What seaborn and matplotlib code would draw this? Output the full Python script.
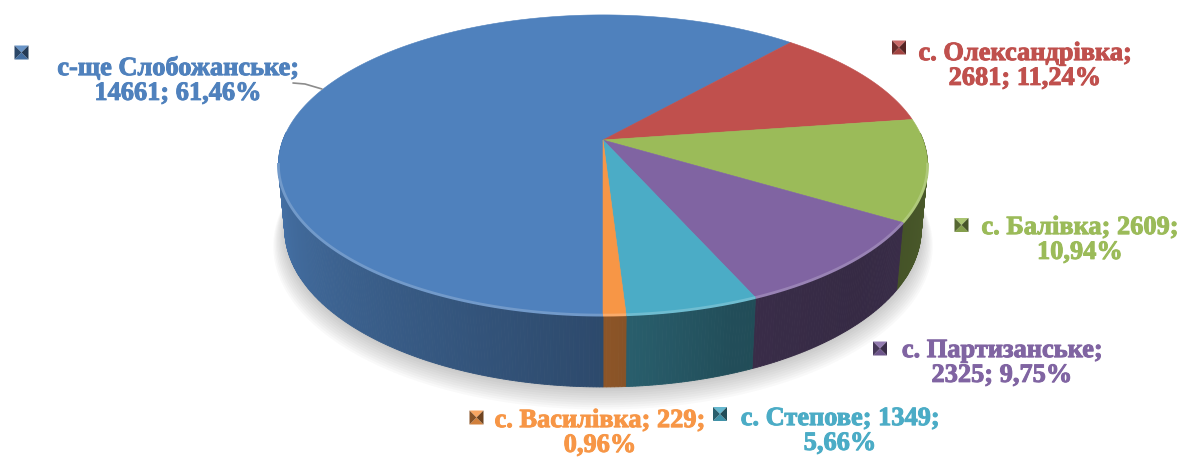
import numpy as np
import matplotlib
matplotlib.use("Agg")
import matplotlib.pyplot as plt
import matplotlib.colors as mcolors
import matplotlib.patheffects as pe
import seaborn as sns

# data
names = ["с-ще Слобожанське", "с. Олександрівка", "с. Балівка",
         "с. Партизанське", "с. Степове", "с. Василівка"]
values = [14661, 2681, 2609, 2325, 1349, 229]
colors = ["#4F81BD", "#C0504D", "#9BBB59", "#8064A2", "#4BACC6", "#F79646"]

# where the label text breaks onto the second line (0 = after name, 1 = after value)
label_break = [0, 0, 1, 0, 1, 1]
label_pos = [(178, 81), (1025, 66), (1080, 240), (1002, 363), (840, 431), (600, 433)]
marker_pos = [(21.5, 52.5), (899, 47.5), (961.5, 225), (880, 348.5), (720, 414), (476.5, 417.5)]

sns.set_style("white")
palette = sns.color_palette(colors)

# --- perspective 3D pie geometry (screen pixels) ---
cx, cy = 603, 140
F = 1709.0
L = 5.34
sphi, cphi = 0.456, 0.890
thick = 0.227
start_angle = 180.0  # first slice angle, clockwise from 12 o'clock


def proj(x, y, z):
    depth = L + y * cphi - z * sphi
    sx = cx + F * x / depth
    sy = cy - F * (y * sphi + z * cphi) / depth
    return sx, sy, depth


def shade(theta):
    th = np.mod(theta, 360)
    return np.interp(th, [0, 90, 135, 160, 180, 225, 270, 315, 360],
                     [0.50, 0.50, 0.42, 0.45, 0.57, 0.75, 0.93, 0.85, 0.50])


def scaled(c, k):
    r, g, b = mcolors.to_rgb(c)
    return (r * k, g * k, b * k)


def lighter(c, k):
    r, g, b = mcolors.to_rgb(c)
    return (r + (1 - r) * k, g + (1 - g) * k, b + (1 - b) * k)


total = sum(values)
sweeps = [v / total * 360 for v in values]
bounds = start_angle + np.concatenate([[0], np.cumsum(sweeps)])

fig = plt.figure(figsize=(11.83, 4.59), dpi=100)
ax = fig.add_axes([0, 0, 1, 1])
ax.set_xlim(0, 1183)
ax.set_ylim(459, 0)
ax.axis("off")

# soft shadow under the pie
th = np.radians(np.linspace(0, 360, 361))
bx, by, _ = proj(np.sin(th), np.cos(th), -thick)
for i in range(10):
    s = 1.0 + 0.004 * i
    ax.fill(cx + (bx - cx) * s, by + 2 + 1.3 * i + (by - cy) * (s - 1),
            color="0.3", alpha=0.03, lw=0, zorder=1)

# side faces
quads = []
for i, c in enumerate(palette):
    a0, a1 = bounds[i], bounds[i + 1]
    n = max(2, int((a1 - a0) / 0.5))
    ang = np.linspace(a0, a1, n + 1)
    for j in range(n):
        t0, t1 = np.radians(ang[j]), np.radians(ang[j + 1])
        ym = np.cos((t0 + t1) / 2)
        if ym > 0.05:
            continue
        x0, y0 = np.sin(t0), np.cos(t0)
        x1, y1 = np.sin(t1), np.cos(t1)
        p1 = proj(x0, y0, 0)
        p2 = proj(x1, y1, 0)
        p3 = proj(x1, y1, -thick)
        p4 = proj(x0, y0, -thick)
        col = scaled(c, shade((ang[j] + ang[j + 1]) / 2))
        quads.append((ym, [p1[0], p2[0], p3[0], p4[0]], [p1[1], p2[1], p3[1], p4[1]], col))
quads.sort(key=lambda q: -q[0])
for _, xs, ys, col in quads:
    ax.fill(xs, ys, color=col, lw=0.6, ec=col, zorder=2)

# top face wedges
for i, c in enumerate(palette):
    ang = np.radians(np.linspace(bounds[i], bounds[i + 1], 200))
    rx, ry, _ = proj(np.sin(ang), np.cos(ang), 0)
    ax.fill(np.r_[cx, rx], np.r_[cy, ry], color=c, lw=0.4, ec=c, zorder=3)
    # bevel highlight on the front rim
    front = np.cos(ang) < -0.15
    if front.any():
        ax.plot(rx[front], ry[front], color=lighter(c, 0.2), lw=2.0,
                solid_capstyle="butt", zorder=4)

# leader line for the big slice
ax.plot([293, 305, 322], [83, 84, 89], color="0.55", lw=1.2, zorder=4)

# data labels
for i, c in enumerate(palette):
    pct = f"{values[i] / total * 100:.2f}%".replace(".", ",")
    if label_break[i] == 0:
        txt = f"{names[i]};\n{values[i]}; {pct}"
    else:
        txt = f"{names[i]}; {values[i]};\n{pct}"
    lx, ly = label_pos[i]
    ax.text(lx, ly, txt, ha="center", va="center", color=c, fontsize=19,
            fontweight="bold", family="Liberation Serif", linespacing=1.1,
            path_effects=[pe.withStroke(linewidth=0.7, foreground=c)],
            zorder=5)
    # bevelled legend key
    mx, my = marker_pos[i]
    h = 7
    tl, tr, bl, br, cc = (mx - h, my - h), (mx + h, my - h), (mx - h, my + h), (mx + h, my + h), (mx, my)
    for tri, col in [((tl, tr, cc), lighter(c, 0.15)), ((bl, br, cc), scaled(c, 0.85)),
                     ((tl, bl, cc), scaled(c, 0.55)), ((tr, br, cc), scaled(c, 0.45))]:
        ax.fill([p[0] for p in tri], [p[1] for p in tri], color=col, lw=0, zorder=5)

fig.savefig("out.png", dpi=100)
